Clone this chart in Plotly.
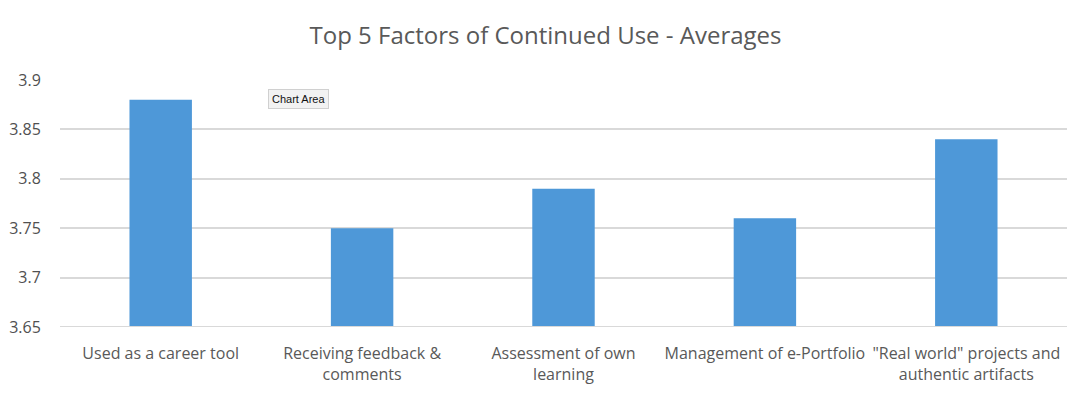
import plotly.graph_objects as go

categories = ["Used as a career tool", "Receiving feedback &<br>comments", "Assessment of own<br>learning",
              "Management of e-Portfolio", "\"Real world\" projects and<br>authentic artifacts"]
values = [3.88, 3.75, 3.79, 3.76, 3.84]
y_min = 3.65
y_ticks = [3.65, 3.7, 3.75, 3.8, 3.85, 3.9]
y_tick_labels = ["3.65", "3.7", "3.75", "3.8", "3.85", "3.9"]

font = "Open Sans, Calibri, sans-serif"
fig = go.Figure(go.Bar(x=categories, y=[v - y_min for v in values], base=y_min,
                       marker=dict(color="#4e98d8", line=dict(width=0)), hoverinfo="skip"))

fig.update_layout(
    width=1091, height=394,
    margin=dict(l=60, r=24, t=80, b=67),
    paper_bgcolor="white", plot_bgcolor="white",
    title=dict(text="Top 5 Factors of Continued Use - Averages", x=0.5, xanchor="center",
               y=1 - 36 / 394, yanchor="middle",
               font=dict(family=font, size=24, color="#595959")),
    bargap=0.69,
    showlegend=False,
    xaxis=dict(showgrid=False, showline=False, automargin=False,
               ticks="outside", ticklen=12, tickcolor="rgba(0,0,0,0)",
               tickfont=dict(family=font, size=16, color="#595959"), tickangle=0),
    yaxis=dict(range=[3.65, 3.9], tickvals=y_ticks, ticktext=y_tick_labels, showgrid=True,
               gridcolor="#d9d9d9", gridwidth=1.5, zeroline=False, showline=False, automargin=False,
               ticks="outside", ticklen=15, tickcolor="rgba(0,0,0,0)",
               tickfont=dict(family=font, size=16, color="#505050")),
    annotations=[dict(text="Chart Area", xref="paper", yref="paper", x=(298 - 60) / 1007,
                      y=(327 - 98.5) / 247, xanchor="center", yanchor="middle", showarrow=False,
                      font=dict(family="Liberation Sans, Arial, sans-serif", size=11, color="#111111"),
                      bgcolor="#f2f2f2", bordercolor="#d0d0d0", borderwidth=1, borderpad=3)],
)
fig.add_shape(type="line", xref="paper", yref="y", x0=0, x1=1, y0=3.65, y1=3.65,
              line=dict(color="#d9d9d9", width=2))
fig.write_html("out.html", config={"displayModeBar": False},
               post_script="document.body.style.margin='0';document.body.style.padding='0';")
